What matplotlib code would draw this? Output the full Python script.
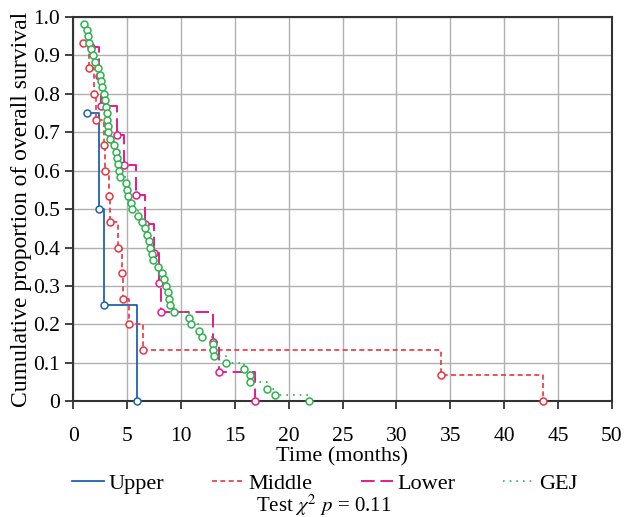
import matplotlib
matplotlib.use('Agg')
import matplotlib.pyplot as plt

# Kaplan-Meier points (time in months, cumulative survival)
upper_t = [1.27, 2.4, 2.9, 5.9]
upper_s = [0.75, 0.5, 0.25, 0.0]

middle_t = [0.96, 1.5, 1.95, 2.13, 2.87, 2.96, 3.36, 3.43, 4.2, 4.5, 4.6, 5.2, 6.5, 34.1, 43.6]
middle_s = [0.933, 0.867, 0.8, 0.733, 0.667, 0.6, 0.533, 0.467, 0.4, 0.333, 0.267, 0.2, 0.133, 0.067, 0.0]

lower_t = [1.64, 2.44, 2.56, 4.1, 4.7, 5.83, 6.7, 7.47, 7.93, 8.12, 13.0, 13.5, 16.9]
lower_s = [0.923, 0.846, 0.769, 0.692, 0.615, 0.538, 0.462, 0.385, 0.308, 0.231, 0.154, 0.077, 0.0]

gej_t = [0.99, 1.27, 1.36, 1.48, 1.65, 1.85, 2.0, 2.3, 2.48, 2.6, 2.72, 2.85, 2.93, 3.05,
         3.15, 3.18, 3.2, 3.28, 3.45, 3.8, 4.0, 4.05, 4.12, 4.3, 4.35, 4.95, 4.97, 5.12,
         5.37, 5.45, 6.05, 6.4, 6.7, 6.9, 7.05, 7.15, 7.35, 7.45, 7.9, 8.25, 8.43, 8.65,
         8.8, 8.9, 8.97, 9.4, 10.77, 10.9, 11.7, 12.0, 12.95, 13.0, 13.05, 14.17, 15.9,
         16.4, 16.45, 18.0, 18.7, 21.9]
gej_s = [0.983, 0.967, 0.950, 0.933, 0.917, 0.900, 0.883, 0.867, 0.850, 0.833, 0.817, 0.800,
         0.783, 0.767, 0.750, 0.733, 0.717, 0.700, 0.683, 0.667, 0.650, 0.633, 0.617, 0.600,
         0.583, 0.567, 0.550, 0.533, 0.517, 0.500, 0.483, 0.467, 0.450, 0.433, 0.417, 0.400,
         0.383, 0.367, 0.350, 0.333, 0.317, 0.300, 0.283, 0.267, 0.250, 0.233, 0.217, 0.200,
         0.183, 0.167, 0.150, 0.133, 0.117, 0.100, 0.083, 0.067, 0.050, 0.033, 0.017, 0.0]

x_ticks = [0, 5, 10, 15, 20, 25, 30, 35, 40, 45, 50]
y_ticks = [0, 0.1, 0.2, 0.3, 0.4, 0.5, 0.6, 0.7, 0.8, 0.9, 1.0]
y_labels = ['0', '0.1', '0.2', '0.3', '0.4', '0.5', '0.6', '0.7', '0.8', '0.9', '1.0']

plt.rcParams['font.family'] = ['Liberation Serif', 'DejaVu Serif']
plt.rcParams['mathtext.fontset'] = 'stix'

fig = plt.figure(figsize=(6.25, 5.17), dpi=100)
ax = fig.add_axes([0.117, 0.224, 0.862, 0.743])

series = [
    ('Upper', upper_t, upper_s, '#1f62b0', '-', 1.3),
    ('Middle', middle_t, middle_s, '#ee3340', (0, (3, 2)), 1.2),
    ('Lower', lower_t, lower_s, '#e8198a', (0, (7, 3)), 1.4),
    ('GEJ', gej_t, gej_s, '#2db34f', (0, (1, 3)), 1.2),
]

for name, t, s, col, ls, lw in series:
    ax.step(t, s, where='post', color=col, linestyle=ls, linewidth=lw, label=name, zorder=3)
    ax.plot(t, s, linestyle='none', marker='o', markersize=5, markerfacecolor='white',
            markeredgecolor=col, markeredgewidth=1.1, zorder=4, clip_on=False)

ax.set_xlim(0, 50)
ax.set_ylim(0, 1.0)
ax.set_xticks(x_ticks)
ax.set_yticks(y_ticks)
ax.set_yticklabels(y_labels)
ax.grid(True, color='#b0b0b0', linewidth=1.0)
ax.set_axisbelow(True)
for sp in ax.spines.values():
    sp.set_color('#333333')
    sp.set_linewidth(1.5)
ax.tick_params(direction='out', length=5.5, width=1.3, colors='#333333', labelsize=15.5,
               labelcolor='black', pad=4)
ax.tick_params(axis='x', pad=13)

ax.set_xlabel('Time (months)', fontsize=16, labelpad=1)
ax.set_ylabel('Cumulative proportion of overall survival', fontsize=17, labelpad=1)

ax.legend(loc='upper center', bbox_to_anchor=(0.4675, -0.187), ncol=4, frameon=False,
          fontsize=16, handlelength=1.45, handletextpad=0.2, columnspacing=2.15,
          borderaxespad=0, borderpad=0)
fig.text(0.518, 0.011, r'Test $\chi^2$ $p$ = 0.11', ha='center', va='baseline', fontsize=15)

fig.savefig('out.png', dpi=100)
